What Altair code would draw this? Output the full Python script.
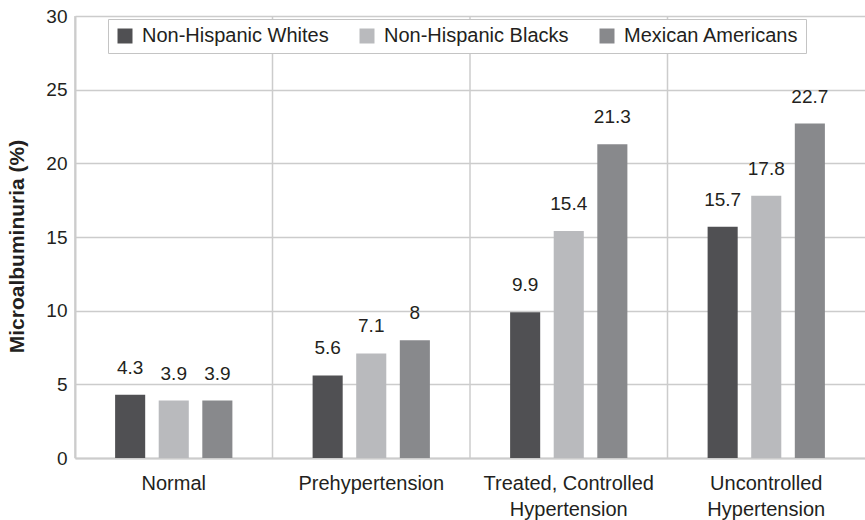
import altair as alt
import pandas as pd

# Microalbuminuria prevalence by blood-pressure status and ethnic group
categories = [
    "Normal",
    "Prehypertension",
    "Treated, Controlled\nHypertension",
    "Uncontrolled\nHypertension",
]
groups = ["Non-Hispanic Whites", "Non-Hispanic Blacks", "Mexican Americans"]
whites = [4.3, 5.6, 9.9, 15.7]
blacks = [3.9, 7.1, 15.4, 17.8]
mexican = [3.9, 8, 21.3, 22.7]
colors = ["#505053", "#b9babd", "#88898c"]
y_ticks = [0, 5, 10, 15, 20, 25, 30]

rows = []
for g, vals in zip(groups, [whites, blacks, mexican]):
    for c, v in zip(categories, vals):
        rows.append({"category": c, "group": g, "value": v})
df = pd.DataFrame(rows)
bounds = pd.DataFrame({"category": categories})

FONT = "Liberation Sans"
INK = "#231f20"
GRID = "#cccccc"

x_scale = alt.Scale(domain=categories, paddingInner=0, paddingOuter=0)
x_axis = alt.Axis(
    title=None,
    labelExpr="split(datum.label, '\\n')",
    labelAngle=0,
    labelAlign="center",
    labelBaseline="top",
    labelFont=FONT,
    labelFontSize=20,
    labelColor=INK,
    labelLineHeight=26,
    labelPadding=15,
    labelLimit=0,
    ticks=False,
    grid=False,
    domainColor=GRID,
    domainWidth=2,
)
offset = alt.XOffset(
    "group:N", sort=groups, scale=alt.Scale(paddingInner=0.31, paddingOuter=0.92)
)
y_enc = alt.Y(
    "value:Q",
    scale=alt.Scale(domain=[0, 30], nice=False),
    axis=alt.Axis(
        values=y_ticks,
        title="Microalbuminuria (%)",
        titleFont=FONT,
        titleFontSize=21,
        titleFontWeight="bold",
        titleColor=INK,
        titleX=-48,
        titleY=230,
        labelFont=FONT,
        labelFontSize=19,
        labelColor=INK,
        labelPadding=8,
        ticks=False,
        domainColor=GRID,
        domainWidth=2,
        gridColor=GRID,
        gridWidth=1.5,
    ),
)

# vertical separators at the start of each category band
separators = (
    alt.Chart(bounds)
    .mark_rule(color=GRID, strokeWidth=1.5)
    .encode(
        x=alt.X("category:N", sort=categories, scale=x_scale, bandPosition=0, axis=x_axis),
        y=alt.value(0),
        y2=alt.value(442),
    )
)

bars = (
    alt.Chart(df)
    .mark_bar()
    .encode(
        x=alt.X("category:N", sort=categories, scale=x_scale, axis=x_axis),
        xOffset=offset,
        y=y_enc,
        color=alt.Color(
            "group:N",
            scale=alt.Scale(domain=groups, range=colors),
            legend=alt.Legend(
                title=None,
                orient="none",
                legendX=33,
                legendY=3,
                direction="horizontal",
                symbolType="square",
                symbolSize=225,
                symbolStrokeWidth=0,
                symbolOpacity=1,
                labelFont=FONT,
                labelFontSize=20,
                labelColor=INK,
                labelLimit=0,
                labelOffset=7,
                columnPadding=28,
                padding=7,
                fillColor="white",
                strokeColor="#c4c4c4",
            ),
        ),
    )
)

labels = (
    alt.Chart(df)
    .mark_text(dy=-21, baseline="alphabetic", font=FONT, fontSize=19, color=INK)
    .encode(
        x=alt.X("category:N", sort=categories, scale=x_scale, axis=x_axis),
        xOffset=offset,
        y=alt.Y("value:Q"),
        text=alt.Text("value:Q"),
    )
)

chart = (
    alt.layer(separators, bars, labels)
    .properties(
        width=790,
        height=442,
        autosize=alt.AutoSizeParams(type="none"),
        padding={"left": 75, "top": 16, "right": 0, "bottom": 62},
        background="white",
    )
    .configure_view(strokeOpacity=0)
)

chart.save("out.html", embed_options={"renderer": "svg", "actions": False})
